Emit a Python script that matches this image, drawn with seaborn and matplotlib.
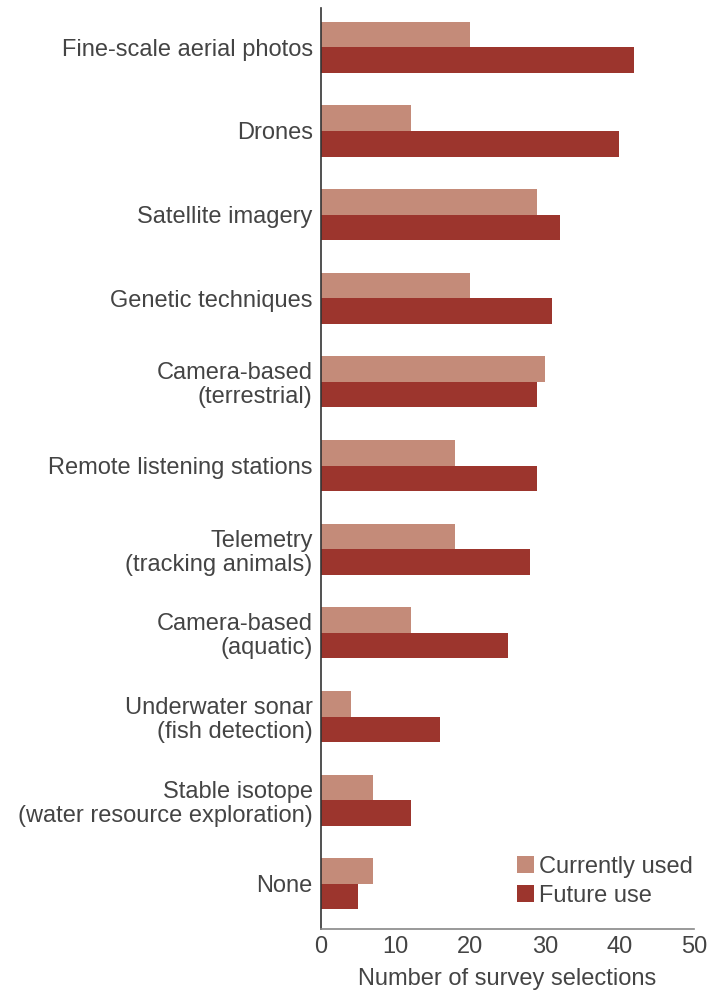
import pandas as pd
import matplotlib.pyplot as plt
import seaborn as sns

# --- Data ---
categories = [
    'Fine-scale aerial photos',
    'Drones',
    'Satellite imagery',
    'Genetic techniques',
    'Camera-based\n(terrestrial)',
    'Remote listening stations',
    'Telemetry\n(tracking animals)',
    'Camera-based\n(aquatic)',
    'Underwater sonar\n(fish detection)',
    'Stable isotope\n(water resource exploration)',
    'None',
]
currently_used = [20, 12, 29, 20, 30, 18, 18, 12, 4, 7, 7]
future_use     = [42, 40, 32, 31, 29, 29, 28, 25, 16, 12, 5]

df = pd.DataFrame({
    'tech': categories * 2,
    'count': currently_used + future_use,
    'series': ['Currently used'] * len(categories) + ['Future use'] * len(categories),
})

# --- Plot ---
sns.set_style('white')
plt.rcParams['font.family'] = ['Liberation Sans', 'DejaVu Sans']
text_col = '#444444'
fs = 17

fig = plt.figure(figsize=(7.24, 9.92), dpi=100)
ax = fig.add_axes([0.4434, 0.0635, 0.5152, 0.9284])

sns.barplot(data=df, y='tech', x='count', hue='series', order=categories,
            palette={'Currently used': '#C48B79', 'Future use': '#9C352D'},
            width=0.61, gap=0, saturation=1, linewidth=0, ax=ax)

ax.set_xlim(0, 50)
ax.set_ylim(10.54, -0.47)
ax.set_xticks([0, 10, 20, 30, 40, 50])
ax.set_xlabel('Number of survey selections', fontsize=fs, color=text_col, labelpad=7)
ax.set_ylabel('')
ax.tick_params(axis='x', direction='in', length=4, width=1, colors='#888888',
               labelcolor=text_col, labelsize=fs, pad=5)
ax.tick_params(axis='y', length=0, labelsize=fs, labelcolor=text_col, pad=6)
for lbl in ax.get_yticklabels():
    lbl.set_linespacing(1.12)

sns.despine(ax=ax)
ax.spines['left'].set_color('#333333')
ax.spines['left'].set_linewidth(1.2)
ax.spines['bottom'].set_color('#888888')
ax.spines['bottom'].set_linewidth(1.2)

leg = ax.legend(loc='lower right', frameon=False, fontsize=fs, handlelength=0.7,
                handleheight=0.7, handletextpad=0.2, labelspacing=0.3,
                bbox_to_anchor=(1.021, 0.014), borderaxespad=0)
for t in leg.get_texts():
    t.set_color(text_col)

plt.savefig('out.png', dpi=100)
